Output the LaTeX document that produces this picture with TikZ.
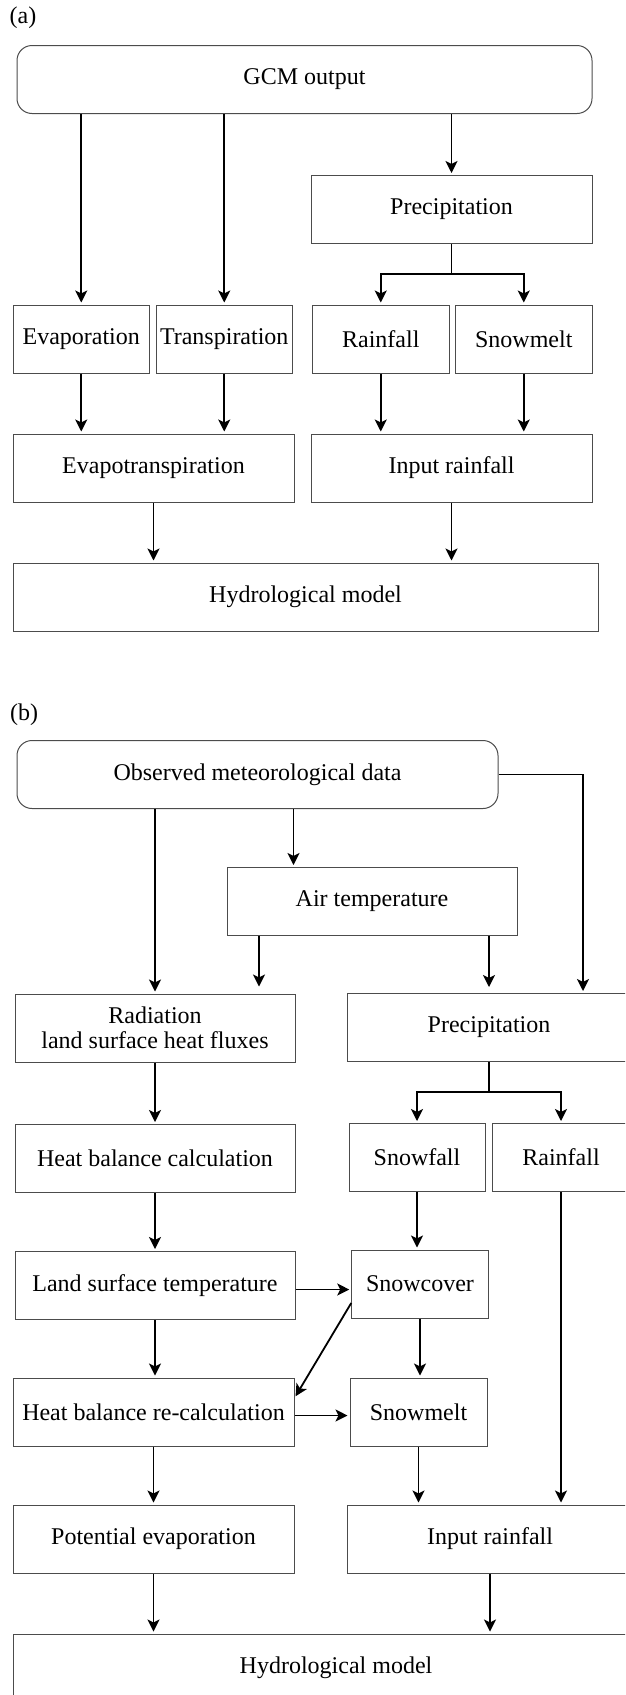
\documentclass[tikz,border=0pt]{standalone}
\usepackage{fontspec}
\setmainfont{Liberation Serif}
\usetikzlibrary{arrows.meta}

\begin{document}
\begin{tikzpicture}[x=1pt,y=-1pt]
	\tikzstyle{every node}+=[inner sep=0pt, font=\fontsize{24}{25}\selectfont]
	\tikzstyle{box}=[draw=black!70, line width=1pt, minimum height=68pt, align=center]
	\tikzstyle{rbox}=[box, rounded corners=15pt]
	\tikzstyle{arr}=[black, line width=1.8pt, -{Stealth[length=12pt,width=12pt,inset=3pt]}, shorten >=2pt]
	\tikzstyle{arrs}=[black, line width=1.8pt, {Stealth[length=12pt,width=12pt,inset=3pt]}-{Stealth[length=12pt,width=12pt,inset=3pt]}, shorten >=2pt, shorten <=2pt]
	\tikzstyle{lin}=[black, line width=1.8pt]
	\useasboundingbox (0,0) rectangle (625,1695);
	\clip (0,0) rectangle (625,1695);
	\draw (23,18) node (lbla) {(a)};
	\draw (304.5,79.5) node [rbox, minimum width=575pt] (gcm) {GCM output};
	\draw (451.5,209.5) node [box, minimum width=281pt] (precA) {Precipitation};
	\draw (81.25,339) node [box, minimum width=136.5pt] (evap) {Evaporation};
	\draw (224.25,339) node [box, minimum width=136.5pt] (transp) {Transpiration};
	\draw (380.75,339) node [box, minimum width=136.5pt] (rainA) {Rainfall};
	\draw (523.75,339) node [box, minimum width=136.5pt] (snowmA) {Snowmelt};
	\draw (153.5,468) node [box, minimum width=281pt] (et) {Evapotranspiration};
	\draw (451.5,468) node [box, minimum width=281pt] (irA) {Input rainfall};
	\draw (305.5,597) node [box, minimum width=585pt] (hydA) {Hydrological model};
	\coordinate (brA) at (451.5,274);
	\draw [arr] (evap.north |- gcm.south) -- (evap.north);
	\draw [arr] (transp.north |- gcm.south) -- (transp.north);
	\draw [arr] (gcm.south -| precA.north) -- (precA.north);
	\draw [lin] (precA.south) -- (brA);
	\draw [arrs] (rainA.north) |- (brA) -| (snowmA.north);
	\draw [arr] (evap.south) -- (evap.south |- et.north);
	\draw [arr] (transp.south) -- (transp.south |- et.north);
	\draw [arr] (rainA.south) -- (rainA.south |- irA.north);
	\draw [arr] (snowmA.south) -- (snowmA.south |- irA.north);
	\draw [arr] (et.south) -- (et.south |- hydA.north);
	\draw [arr] (irA.south) -- (irA.south |- hydA.north);
	\draw (24,715) node (lblb) {(b)};
	\draw (257.5,774.5) node [rbox, minimum width=481pt] (omd) {Observed meteorological data};
	\draw (372,901.5) node [box, minimum width=290pt] (air) {Air temperature};
	\draw (155,1028) node [box, minimum width=280pt] (rad) {Radiation\\land surface heat fluxes};
	\draw (489,1027.5) node [box, minimum width=283pt] (precB) {Precipitation};
	\draw (155,1158.5) node [box, minimum width=280pt] (hbc) {Heat balance calculation};
	\draw (417,1157.5) node [box, minimum width=136pt] (snowf) {Snowfall};
	\draw (561,1157.5) node [box, minimum width=138pt] (rainB) {Rainfall};
	\draw (155,1285.5) node [box, minimum width=280pt] (lst) {Land surface temperature};
	\draw (420,1284) node [box, minimum width=136.5pt] (snowc) {Snowcover};
	\draw (153.5,1412) node [box, minimum width=281pt] (hbr) {Heat balance re-calculation};
	\draw (418.5,1412) node [box, minimum width=137pt] (snowmB) {Snowmelt};
	\draw (153.5,1539) node [box, minimum width=281pt] (pe) {Potential evaporation};
	\draw (490,1539) node [box, minimum width=285pt] (irB) {Input rainfall};
	\draw (336,1668) node [box, minimum width=646pt] (hydB) {Hydrological model};
	\coordinate (oa) at ([xshift=67pt]air.north west);
	\coordinate (ar) at ([xshift=32.5pt]air.south west);
	\coordinate (orr) at ([xshift=94pt]precB.north);
	\coordinate (brB) at (489,1092);
	\coordinate (ls) at ([yshift=-4pt]lst.east);
	\coordinate (hs) at ([yshift=-3.5pt]hbr.east);
	\draw [arr] (rad.north |- omd.south) -- (rad.north);
	\draw [arr] (oa |- omd.south) -- (oa);
	\draw [arr] (omd.east) -| (orr);
	\draw [arr, shorten >=7pt] (ar) -- (ar |- rad.north);
	\draw [arr, shorten >=6pt] (air.south -| precB.north) -- (precB.north);
	\draw [lin] (precB.south) -- (brB);
	\draw [arrs] (snowf.north) |- (brB) -| (rainB.north);
	\draw [arr] (rad.south) -- (rad.south |- hbc.north);
	\draw [arr] (hbc.south) -- (hbc.south |- lst.north);
	\draw [arr] (snowf.south) -- (snowf.south |- snowc.north);
	\draw [arr] (ls) -- (ls -| snowc.west);
	\draw [arr] ([yshift=-19pt]snowc.west) -- ([yshift=14pt]hbr.east);
	\draw [arr] (lst.south) -- (lst.south |- hbr.north);
	\draw [arr] (hs) -- (hs -| snowmB.west);
	\draw [arr] (snowc.south) -- (snowc.south |- snowmB.north);
	\draw [arr] (rainB.south) -- (rainB.south |- irB.north);
	\draw [arr] (hbr.south) -- (hbr.south |- pe.north);
	\draw [arr] (snowmB.south) -- (snowmB.south |- irB.north);
	\draw [arr] (pe.south) -- (pe.south |- hydB.north);
	\draw [arr] (irB.south) -- (irB.south |- hydB.north);
\end{tikzpicture}
\end{document}
